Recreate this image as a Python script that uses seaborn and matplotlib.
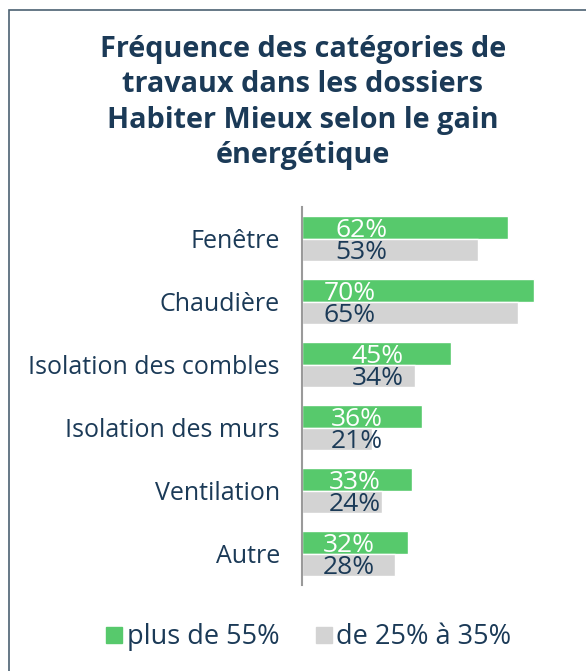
import matplotlib
matplotlib.use("Agg")
import matplotlib.pyplot as plt
import seaborn as sns
import pandas as pd
from matplotlib.lines import Line2D
from matplotlib.patches import Rectangle

# ---- data ----
categories = ["Fenêtre", "Chaudière", "Isolation des combles", "Isolation des murs", "Ventilation", "Autre"]
series_names = ["plus de 55%", "de 25% à 35%"]
plus_55 = [62, 70, 45, 36, 33, 32]
de_25_35 = [53, 65, 34, 21, 24, 28]
title = "Fréquence des catégories de\ntravaux dans les dossiers\nHabiter Mieux selon le gain\nénergétique"

# ---- style ----
NAVY = "#1b3a57"
GREEN = "#57c96c"
GRAY = "#d3d3d3"
label_x = [18.0, 14.3, 22.7, 16.6, 16.0, 14.0]  # label centers (layout)

sns.set_theme(style="white")
plt.rcParams["font.family"] = ["Open Sans", "DejaVu Sans"]

df = pd.DataFrame({
    "cat": categories * 2,
    "serie": [series_names[0]] * len(categories) + [series_names[1]] * len(categories),
    "val": plus_55 + de_25_35,
})

fig = plt.figure(figsize=(5.86, 6.71), dpi=100)
ax = fig.add_axes([302 / 586, 1 - 585 / 671, 258 / 586, 378 / 671])

sns.barplot(data=df, y="cat", x="val", hue="serie", orient="h",
            palette=[GREEN, GRAY], width=0.73, ax=ax, legend=False,
            saturation=1, errorbar=None)

ax.set_xlim(0, 258 / 3.32)
ax.set_xlabel("")
ax.set_ylabel("")
ax.set_xticks([])
for s in ["top", "right", "bottom"]:
    ax.spines[s].set_visible(False)
ax.spines["left"].set_color("#9a9a9a")
ax.spines["left"].set_linewidth(1.5)
ax.tick_params(axis="y", length=0, pad=16, labelsize=18, labelcolor=NAVY)

# value labels
for i, c in enumerate(categories):
    ax.text(label_x[i], i - 0.73 / 4, f"{plus_55[i]}%", ha="center", va="center_baseline",
            color="white", fontsize=19)
    ax.text(label_x[i], i + 0.73 / 4, f"{de_25_35[i]}%", ha="center", va="center_baseline",
            color=NAVY, fontsize=19)

# title
fig.text(303 / 586, 1 - 35 / 671, title, ha="center", va="top", fontsize=20.8,
         fontweight="bold", color=NAVY, linespacing=1.29)

# legend
handles = [Line2D([], [], marker="s", linestyle="", markersize=11, color=GREEN),
           Line2D([], [], marker="s", linestyle="", markersize=11, color=GRAY)]
fig.legend(handles, series_names, loc="center", bbox_to_anchor=(308 / 586, 1 - 637 / 671),
           ncol=2, frameon=False, fontsize=19.5, labelcolor=NAVY, handletextpad=0.1,
           columnspacing=1.3, handlelength=0.7)

# frame
fig.patches.append(Rectangle((9.5 / 586, -0.2), 1.5, 1.2 - 9.5 / 671, transform=fig.transFigure,
                             fill=False, edgecolor="#4b6172", linewidth=1.2))

fig.savefig("out.png", dpi=100)
